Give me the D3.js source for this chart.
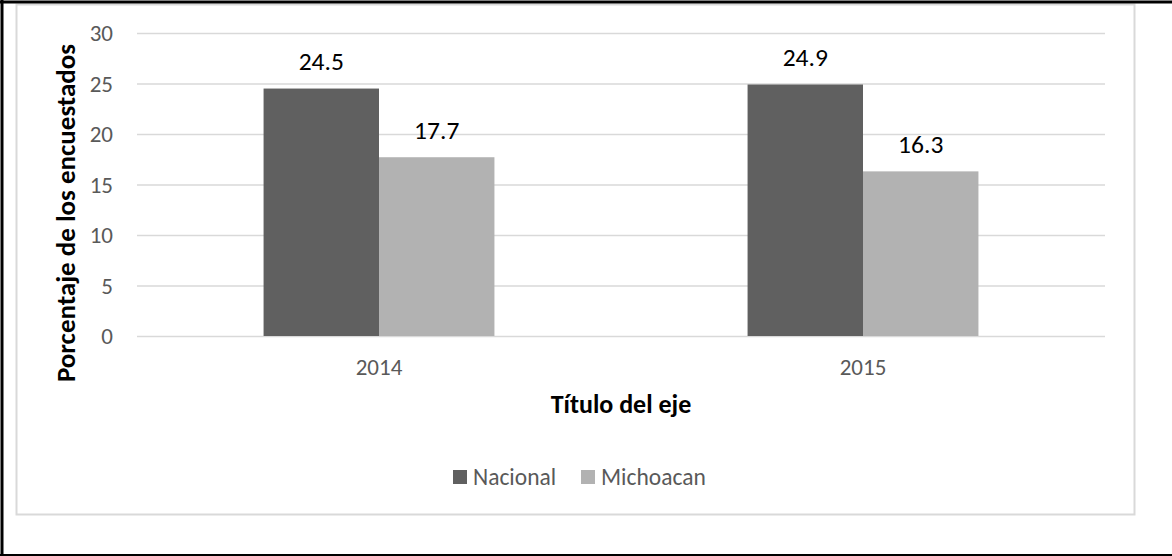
<!DOCTYPE html>
<html>
<head>
<meta charset="utf-8">
<script src="https://cdn.jsdelivr.net/npm/d3@7"></script>
<style>
  html, body { margin: 0; padding: 0; background: #fff; }
  svg { display: block; font-family: Carlito, Calibri, Lato, sans-serif; }
</style>
</head>
<body>
<svg id="chart" width="1172" height="556"></svg>
<script>
// chart data
const categories = ['2014', '2015'];
const seriesNames = ['Nacional', 'Michoacan'];
const nacional = [24.5, 24.9];
const michoacan = [17.7, 16.3];
const yTicks = [0, 5, 10, 15, 20, 25, 30];
const seriesColors = ['#606060', '#b2b2b2'];

const svg = d3.select('#chart');

// outer frame
svg.append('rect')
  .attr('x', 16.5).attr('y', 4.5).attr('width', 1118).attr('height', 510)
  .attr('fill', '#fff').attr('stroke', '#d9d9d9').attr('stroke-width', 2);
svg.append('line').attr('x1', 0).attr('x2', 1172).attr('y1', 2).attr('y2', 2)
  .attr('stroke', '#000').attr('stroke-width', 3);
svg.append('line').attr('x1', 2).attr('x2', 2).attr('y1', 0).attr('y2', 556)
  .attr('stroke', '#000').attr('stroke-width', 3);
svg.append('line').attr('x1', 0).attr('x2', 1172).attr('y1', 555).attr('y2', 555)
  .attr('stroke', '#000').attr('stroke-width', 2);

const plot = { left: 137, right: 1105, top: 33, bottom: 336 };

const y = d3.scaleLinear().domain([0, 30]).range([plot.bottom, plot.top]);
const x0 = d3.scaleBand().domain(categories)
  .range([plot.left, plot.right])
  .paddingInner(0.523).paddingOuter(0.2615);
const x1 = d3.scaleBand().domain(seriesNames).range([0, x0.bandwidth()]);

// y axis + gridlines
const yAxis = svg.append('g')
  .attr('transform', `translate(${plot.left},0)`)
  .call(d3.axisLeft(y).tickValues(yTicks)
    .tickSize(-(plot.right - plot.left)).tickPadding(24));
yAxis.select('.domain').remove();
yAxis.selectAll('.tick line').attr('stroke', '#d9d9d9').attr('stroke-width', 1.3);
yAxis.selectAll('.tick text')
  .attr('fill', '#595959').attr('font-size', 23).attr('dy', '0.34em')
  .style('font-family', 'Carlito, Calibri, Lato, sans-serif');

// x axis labels
const xAxis = svg.append('g')
  .attr('transform', `translate(0,${plot.bottom})`)
  .call(d3.axisBottom(x0).tickSize(0).tickPadding(0));
xAxis.select('.domain').remove();
xAxis.selectAll('.tick text')
  .attr('fill', '#595959').attr('font-size', 23)
  .attr('y', 39).attr('dy', 0)
  .style('font-family', 'Carlito, Calibri, Lato, sans-serif');

// bars
const rows = categories.map((c, i) => ({
  category: c,
  values: [
    { series: seriesNames[0], value: nacional[i] },
    { series: seriesNames[1], value: michoacan[i] }
  ]
}));

const color = d3.scaleOrdinal().domain(seriesNames).range(seriesColors);

const groups = svg.append('g').selectAll('g')
  .data(rows).join('g')
  .attr('transform', d => `translate(${x0(d.category)},0)`);

groups.selectAll('rect')
  .data(d => d.values).join('rect')
  .attr('x', d => x1(d.series))
  .attr('y', d => y(d.value))
  .attr('width', x1.bandwidth())
  .attr('height', d => y(0) - y(d.value))
  .attr('fill', d => color(d.series));

// data labels
groups.selectAll('text.label')
  .data(d => d.values).join('text')
  .attr('class', 'label')
  .attr('x', d => x1(d.series) + x1.bandwidth() / 2)
  .attr('y', d => y(d.value) - 18.5)
  .attr('text-anchor', 'middle')
  .attr('font-size', 25.5)
  .attr('fill', '#000')
  .text(d => d.value.toFixed(1));

// axis titles
svg.append('text')
  .attr('x', (plot.left + plot.right) / 2).attr('y', 413)
  .attr('text-anchor', 'middle')
  .attr('font-size', 26).attr('font-weight', 'bold').attr('fill', '#000')
  .text('Título del eje');

svg.append('text')
  .attr('transform', 'translate(75,213) rotate(-90)')
  .attr('text-anchor', 'middle')
  .attr('font-size', 27).attr('font-weight', 'bold').attr('fill', '#000')
  .text('Porcentaje de los encuestados');

// legend
const legendX = [453, 581];
const legend = svg.append('g').selectAll('g')
  .data(seriesNames).join('g')
  .attr('transform', (d, i) => `translate(${legendX[i]},470)`);
legend.append('rect')
  .attr('width', 14).attr('height', 14)
  .attr('fill', d => color(d));
legend.append('text')
  .attr('x', 20).attr('y', 15)
  .attr('font-size', 23.5).attr('fill', '#595959')
  .text(d => d);
</script>
</body>
</html>
